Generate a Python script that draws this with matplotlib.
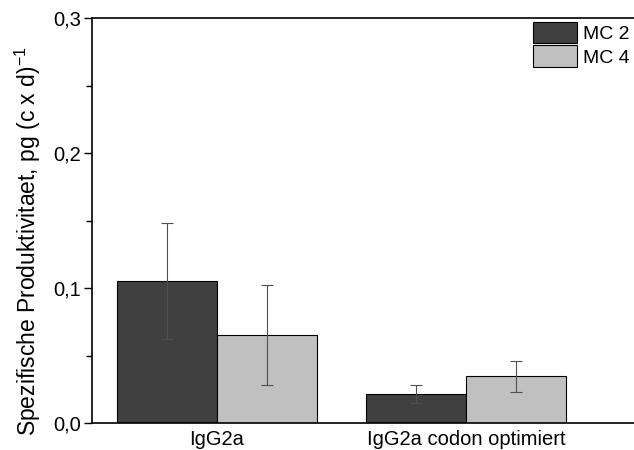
import matplotlib
matplotlib.use('Agg')
import matplotlib.pyplot as plt
import numpy as np

plt.rcParams['font.family'] = ['Liberation Sans', 'DejaVu Sans']
plt.rcParams['mathtext.default'] = 'regular'

# data
groups = ['IgG2a', 'IgG2a codon optimiert']
series = ['MC 2', 'MC 4']
mc2 = [0.105, 0.0215]
mc2_err = [0.043, 0.0065]
mc4 = [0.065, 0.0345]
mc4_err = [0.037, 0.0115]
colors = ['#404040', '#c0c0c0']
yticks = [0.0, 0.1, 0.2, 0.3]
ytick_labels = ['0,0', '0,1', '0,2', '0,3']

fig = plt.figure(figsize=(6.34, 4.5), dpi=100)
ax = fig.add_axes([0.145, 0.06, 0.855, 0.9])

x = np.arange(len(groups))
w = 0.4
err_kw = dict(ecolor='#505050', elinewidth=0.8, capsize=4, capthick=0.8)
ax.bar(x - w/2, mc2, w, yerr=mc2_err, color=colors[0], edgecolor='black',
       linewidth=0.8, label=series[0], error_kw=err_kw)
ax.bar(x + w/2, mc4, w, yerr=mc4_err, color=colors[1], edgecolor='black',
       linewidth=0.8, label=series[1], error_kw=err_kw)

ax.set_xlim(-0.502, 1.675)
ax.set_ylim(0, 0.3)
ax.set_xticks(x)
ax.set_xticklabels(groups, fontsize=14.5)
ax.tick_params(axis='x', length=0, pad=5)
ax.set_yticks(yticks)
ax.set_yticklabels(ytick_labels, fontsize=14.5)
ax.set_yticks([0.05, 0.15, 0.25], minor=True)
ax.tick_params(axis='y', which='major', length=6, width=1, direction='out', pad=2)
ax.tick_params(axis='y', which='minor', length=4, width=1, direction='out')
ax.spines['right'].set_visible(False)
for s in ['left', 'top', 'bottom']:
    ax.spines[s].set_linewidth(1.2)

ax.set_ylabel('Spezifische Produktivitaet, pg (c x d)$^{-1}$', fontsize=16.5)
ax.yaxis.set_label_coords(-0.09, 0.45)

ax.legend(loc='upper right', bbox_to_anchor=(1.010, 1.015), frameon=False, fontsize=14,
          handlelength=2.3, handleheight=1.35, labelspacing=0.1, handletextpad=0.3,
          borderaxespad=0.1)

fig.savefig('out.png', dpi=100)
